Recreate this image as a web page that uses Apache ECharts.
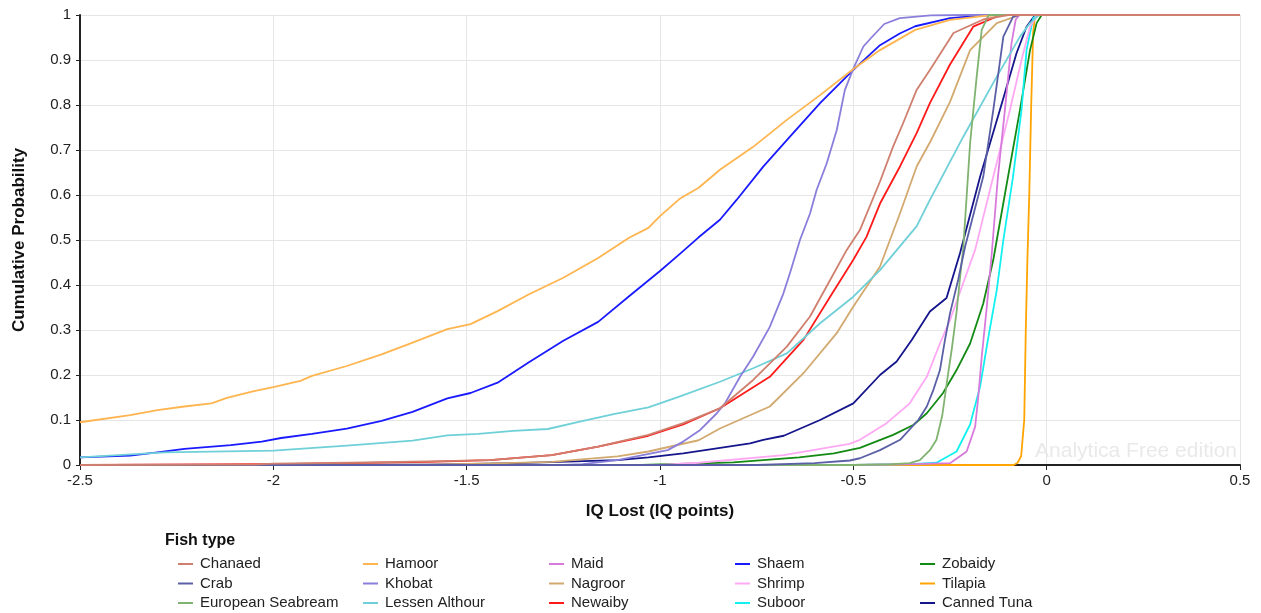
<!DOCTYPE html>
<html><head><meta charset="utf-8">
<script src="https://cdn.jsdelivr.net/npm/echarts@6/dist/echarts.min.js"></script>
<style>html,body{margin:0;padding:0;background:#fff}#c{width:1261px;height:613px}</style>
</head><body><div id="c"></div><script>
// ---- data (IQ Lost, cumulative probability) ----
const xTicks = [-2.5, -2, -1.5, -1, -0.5, 0, 0.5];
const yTicks = [0, 0.1, 0.2, 0.3, 0.4, 0.5, 0.6, 0.7, 0.8, 0.9, 1];
const fishTypes = ['Chanaed','Crab','European Seabream','Hamoor','Khobat','Lessen Althour','Maid','Nagroor','Newaiby','Shaem','Shrimp','Suboor','Zobaidy','Tilapia','Canned Tuna'];

const chanaed = [[-2.5,0],[-2.05,0.001],[-2.0,0.003],[-1.8,0.005],[-1.6,0.008],[-1.44,0.011],[-1.28,0.022],[-1.16,0.041],[-1.03,0.067],[-0.94,0.093],[-0.845,0.126],[-0.759,0.189],[-0.672,0.263],[-0.612,0.33],[-0.56,0.411],[-0.517,0.478],[-0.483,0.522],[-0.431,0.63],[-0.397,0.708],[-0.371,0.76],[-0.336,0.834],[-0.302,0.878],[-0.241,0.96],[-0.164,0.99],[-0.1,1],[0.5,1]];
const crab = [[-2.5,0],[-0.75,0],[-0.6,0.004],[-0.509,0.01],[-0.483,0.015],[-0.431,0.033],[-0.379,0.056],[-0.332,0.1],[-0.31,0.13],[-0.293,0.167],[-0.276,0.211],[-0.263,0.278],[-0.25,0.337],[-0.229,0.411],[-0.211,0.485],[-0.164,0.641],[-0.138,0.789],[-0.112,0.952],[-0.087,0.996],[-0.07,1],[0.5,1]];
const europeanSeabream = [[-2.5,0],[-0.5,0],[-0.4,0.002],[-0.354,0.004],[-0.328,0.011],[-0.302,0.033],[-0.285,0.056],[-0.27,0.11],[-0.257,0.19],[-0.245,0.26],[-0.233,0.34],[-0.22,0.45],[-0.216,0.478],[-0.198,0.715],[-0.181,0.863],[-0.168,0.967],[-0.15,1],[0.5,1]];
const hamoor = [[-2.5,0.095],[-2.37,0.111],[-2.3,0.122],[-2.23,0.13],[-2.16,0.137],[-2.12,0.149],[-2.05,0.164],[-2.0,0.173],[-1.93,0.187],[-1.9,0.198],[-1.81,0.22],[-1.72,0.246],[-1.64,0.272],[-1.55,0.302],[-1.49,0.313],[-1.42,0.342],[-1.34,0.379],[-1.25,0.416],[-1.16,0.46],[-1.08,0.505],[-1.03,0.527],[-1.0,0.553],[-0.95,0.591],[-0.9,0.616],[-0.845,0.656],[-0.759,0.707],[-0.672,0.767],[-0.586,0.822],[-0.5,0.88],[-0.431,0.922],[-0.34,0.967],[-0.25,0.989],[-0.16,0.998],[-0.1,1],[0.5,1]];
const khobat = [[-2.5,0],[-1.25,0],[-1.2,0.002],[-1.11,0.011],[-0.98,0.033],[-0.94,0.052],[-0.896,0.078],[-0.853,0.115],[-0.832,0.137],[-0.793,0.196],[-0.759,0.241],[-0.716,0.307],[-0.681,0.381],[-0.664,0.426],[-0.638,0.5],[-0.612,0.559],[-0.595,0.611],[-0.569,0.67],[-0.543,0.744],[-0.522,0.833],[-0.5,0.881],[-0.474,0.93],[-0.453,0.95],[-0.42,0.98],[-0.38,0.993],[-0.3,0.999],[-0.2,1],[0.5,1]];
const lessenAlthour = [[-2.5,0.017],[-2.28,0.028],[-2.0,0.032],[-1.81,0.043],[-1.64,0.054],[-1.55,0.066],[-1.47,0.069],[-1.38,0.076],[-1.29,0.08],[-1.21,0.096],[-1.12,0.113],[-1.03,0.128],[-0.95,0.152],[-0.845,0.185],[-0.759,0.215],[-0.672,0.248],[-0.586,0.315],[-0.5,0.374],[-0.431,0.433],[-0.336,0.531],[-0.302,0.589],[-0.216,0.729],[-0.129,0.863],[-0.069,0.952],[-0.043,0.982],[-0.02,1],[0.5,1]];
const maid = [[-2.5,0],[-0.5,0],[-0.35,0.002],[-0.25,0.004],[-0.207,0.03],[-0.185,0.085],[-0.177,0.15],[-0.168,0.24],[-0.155,0.35],[-0.142,0.47],[-0.126,0.641],[-0.108,0.789],[-0.091,0.937],[-0.08,0.99],[-0.07,1],[0.5,1]];
const nagroor = [[-2.5,0],[-1.6,0.001],[-1.4,0.004],[-1.28,0.007],[-1.11,0.019],[-1.03,0.03],[-0.9,0.055],[-0.845,0.081],[-0.716,0.13],[-0.629,0.204],[-0.543,0.293],[-0.5,0.352],[-0.431,0.441],[-0.379,0.56],[-0.336,0.664],[-0.3,0.72],[-0.25,0.807],[-0.198,0.922],[-0.129,0.982],[-0.07,1],[0.5,1]];
const newaiby = [[-2.5,0],[-2.0,0.002],[-1.8,0.004],[-1.6,0.007],[-1.44,0.011],[-1.28,0.022],[-1.16,0.041],[-1.03,0.065],[-0.94,0.09],[-0.845,0.126],[-0.716,0.196],[-0.629,0.278],[-0.56,0.374],[-0.5,0.456],[-0.466,0.507],[-0.431,0.581],[-0.379,0.664],[-0.336,0.738],[-0.302,0.804],[-0.25,0.89],[-0.19,0.974],[-0.12,1],[0.5,1]];
const shaem = [[-2.5,0.017],[-2.37,0.021],[-2.3,0.028],[-2.23,0.036],[-2.11,0.044],[-2.03,0.052],[-1.98,0.06],[-1.9,0.069],[-1.81,0.081],[-1.72,0.098],[-1.64,0.118],[-1.55,0.148],[-1.49,0.16],[-1.42,0.183],[-1.34,0.228],[-1.25,0.276],[-1.16,0.318],[-1.08,0.375],[-1.0,0.431],[-0.95,0.468],[-0.9,0.506],[-0.845,0.545],[-0.802,0.589],[-0.733,0.663],[-0.672,0.722],[-0.586,0.804],[-0.5,0.878],[-0.431,0.933],[-0.38,0.959],[-0.34,0.975],[-0.25,0.993],[-0.15,1],[0.5,1]];
const shrimp = [[-2.5,0],[-1.0,0],[-0.9,0.005],[-0.68,0.022],[-0.51,0.047],[-0.483,0.056],[-0.414,0.093],[-0.354,0.137],[-0.31,0.196],[-0.276,0.27],[-0.25,0.322],[-0.216,0.404],[-0.185,0.478],[-0.138,0.641],[-0.095,0.789],[-0.065,0.9],[-0.043,0.974],[-0.025,1],[0.5,1]];
const suboor = [[-2.5,0],[-0.5,0],[-0.35,0.002],[-0.285,0.005],[-0.233,0.03],[-0.198,0.09],[-0.172,0.175],[-0.152,0.278],[-0.129,0.389],[-0.112,0.5],[-0.087,0.641],[-0.065,0.789],[-0.052,0.922],[-0.035,0.993],[-0.025,1],[0.5,1]];
const zobaidy = [[-2.5,0],[-1.05,0],[-0.81,0.006],[-0.64,0.017],[-0.55,0.026],[-0.483,0.038],[-0.397,0.067],[-0.345,0.089],[-0.31,0.115],[-0.268,0.16],[-0.233,0.211],[-0.198,0.27],[-0.164,0.359],[-0.138,0.456],[-0.129,0.5],[-0.103,0.626],[-0.069,0.789],[-0.043,0.922],[-0.026,0.982],[-0.013,1],[0.5,1]];
const tilapia = [[-2.5,0],[-0.085,0],[-0.075,0.005],[-0.066,0.02],[-0.058,0.1],[-0.054,0.3],[-0.05,0.45],[-0.045,0.6],[-0.04,0.8],[-0.035,0.96],[-0.03,1],[0.5,1]];
const cannedTuna = [[-2.5,0],[-1.6,0.001],[-1.37,0.004],[-1.11,0.011],[-1.03,0.017],[-0.94,0.026],[-0.853,0.037],[-0.767,0.048],[-0.733,0.056],[-0.68,0.065],[-0.586,0.1],[-0.5,0.137],[-0.431,0.2],[-0.388,0.23],[-0.349,0.278],[-0.302,0.341],[-0.259,0.371],[-0.224,0.471],[-0.172,0.641],[-0.121,0.789],[-0.078,0.915],[-0.052,0.974],[-0.03,1],[0.5,1]];

const seriesData = {
  'Chanaed': chanaed, 'Crab': crab, 'European Seabream': europeanSeabream,
  'Hamoor': hamoor, 'Khobat': khobat, 'Lessen Althour': lessenAlthour,
  'Maid': maid, 'Nagroor': nagroor, 'Newaiby': newaiby,
  'Shaem': shaem, 'Shrimp': shrimp, 'Suboor': suboor,
  'Zobaidy': zobaidy, 'Tilapia': tilapia, 'Canned Tuna': cannedTuna
};

// ---- style ----
const colors = {
  'Chanaed': '#cf7f6e', 'Crab': '#5b60a6', 'European Seabream': '#80b370',
  'Hamoor': '#ffb54f', 'Khobat': '#8a7edb', 'Lessen Althour': '#6fd0d8',
  'Maid': '#d879dc', 'Nagroor': '#d2a96f', 'Newaiby': '#ff1a1a',
  'Shaem': '#1a1aff', 'Shrimp': '#ffa8f4', 'Suboor': '#12f0f0',
  'Zobaidy': '#138a13', 'Tilapia': '#ffa400', 'Canned Tuna': '#15158c'
};
const FONT = '"Liberation Sans", Arial, sans-serif';

const series = fishTypes.slice().reverse().map(name => ({
  name, type: 'line', data: seriesData[name], showSymbol: false, symbol: 'none',
  smooth: false,
  color: colors[name], lineStyle: { width: 1.8, color: colors[name], join: 'round' },
  animation: false, clip: true
}));

const legendCols = [0, 1, 2, 3, 4].map(c => fishTypes.slice(c * 3, c * 3 + 3));
const legendLeft = [178, 363, 549, 735, 920];
const legends = legendCols.map((items, i) => ({
  data: items, orient: 'vertical', left: legendLeft[i], top: 556, padding: 0,
  itemWidth: 15, itemHeight: 2, itemGap: 3.5, icon: 'rect',
  selectedMode: false,
  textStyle: { fontFamily: FONT, fontSize: 15, color: '#222', lineHeight: 16, padding: [0, 0, 0, 2] }
}));

const chart = echarts.init(document.getElementById('c'), null, { renderer: 'canvas' });
chart.setOption({
  animation: false,
  backgroundColor: '#fff',
  grid: { left: 80, right: 21, top: 15, bottom: 148, containLabel: false },
  xAxis: {
    type: 'value', min: xTicks[0], max: xTicks[xTicks.length - 1], interval: 0.5,
    name: 'IQ Lost (IQ points)', nameLocation: 'middle', nameGap: 38,
    nameTextStyle: { fontFamily: FONT, fontSize: 17, fontWeight: 'bold', color: '#111' },
    axisLine: { show: true, onZero: false, lineStyle: { color: '#222', width: 2 } },
    axisTick: { show: true, length: 5, lineStyle: { color: '#222', width: 1 } },
    axisLabel: { fontFamily: FONT, fontSize: 15, color: '#222', margin: 8 },
    splitLine: { show: true, lineStyle: { color: '#e6e6e6', width: 1 } }
  },
  yAxis: {
    type: 'value', min: yTicks[0], max: yTicks[yTicks.length - 1], interval: 0.1,
    name: 'Cumulative Probability', nameLocation: 'middle', nameGap: 52,
    nameTextStyle: { fontFamily: FONT, fontSize: 17, fontWeight: 'bold', color: '#111' },
    axisLine: { show: true, onZero: false, lineStyle: { color: '#222', width: 2 } },
    axisTick: { show: true, length: 4, lineStyle: { color: '#222', width: 1 } },
    axisLabel: { fontFamily: FONT, fontSize: 15, color: '#222', margin: 9 },
    splitLine: { show: true, lineStyle: { color: '#e6e6e6', width: 1 } }
  },
  legend: legends,
  graphic: [
    { type: 'text', left: 165, top: 533, style: { text: 'Fish type', font: 'bold 16px ' + FONT, fill: '#111' } },
    { type: 'text', right: 24, top: 441, z: 0, style: { text: 'Analytica Free edition', font: '21px ' + FONT, fill: '#e9e9e9' } }
  ],
  series
});
</script></body></html>
